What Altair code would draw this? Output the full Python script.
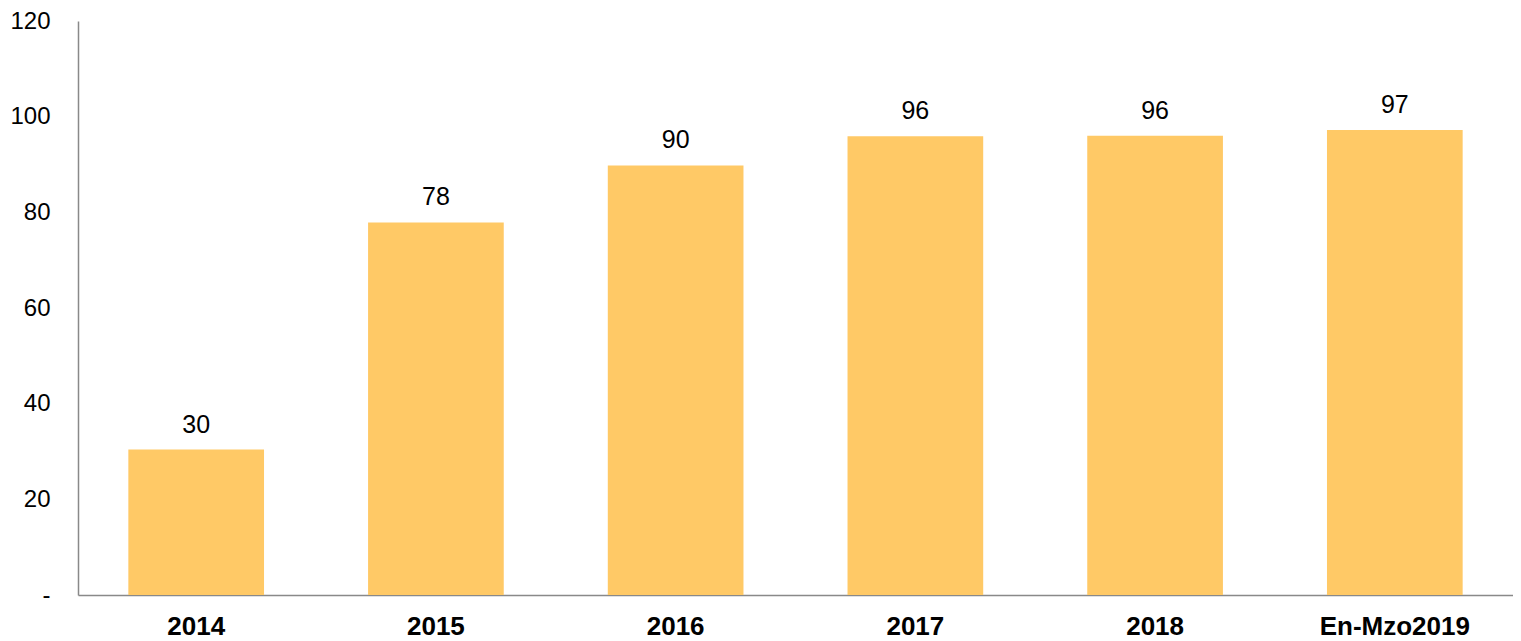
import altair as alt
import pandas as pd

categories = ["2014", "2015", "2016", "2017", "2018", "En-Mzo2019"]
values = [30.4, 77.9, 89.8, 95.9, 96.0, 97.2]
y_ticks = [0, 20, 40, 60, 80, 100, 120]

df = pd.DataFrame({"cat": categories, "val": values})

x = alt.X("cat:N", sort=categories, title=None,
          scale=alt.Scale(paddingInner=0.434, paddingOuter=0.21),
          axis=alt.Axis(labelAngle=0, labelFont="Liberation Sans", labelFontSize=26,
                        labelFontWeight="bold", labelColor="#000000", ticks=False,
                        domainColor="#898989", domainWidth=1.5, labelPadding=18))
y = alt.Y("val:Q", title=None,
          scale=alt.Scale(domain=[0, 120], nice=False),
          axis=alt.Axis(values=y_ticks, grid=False, ticks=False,
                        labelExpr="datum.value == 0 ? '-' : datum.label",
                        labelFont="Liberation Sans", labelFontSize=24, labelColor="#000000",
                        domainColor="#898989", domainWidth=1.5, labelPadding=28))

bars = alt.Chart(df).mark_bar(color="#FFC966").encode(x=x, y=y)
labels = alt.Chart(df).mark_text(font="Liberation Sans", fontSize=25, color="#000000",
                                 baseline="alphabetic", dy=-17).encode(
    x=alt.X("cat:N", sort=categories),
    y=alt.Y("val:Q"),
    text=alt.Text("val:Q", format=".0f"))

chart = (bars + labels).properties(
    width=1435, height=574,
    background="white",
    autosize=alt.AutoSizeParams(type="none"),
    padding={"left": 70, "top": 13, "right": 0, "bottom": 44},
).configure_view(stroke=None)

chart.save("out.html", embed_options={"renderer": "svg", "actions": False})
